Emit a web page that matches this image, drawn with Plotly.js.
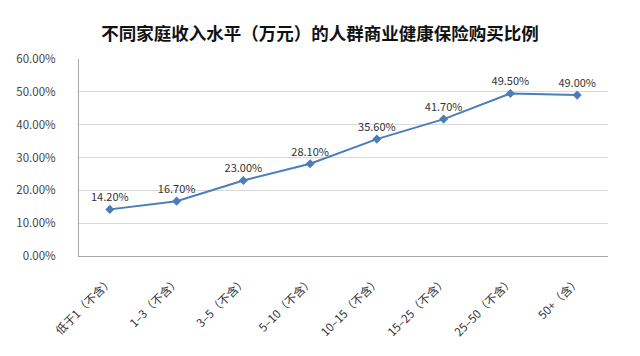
<!DOCTYPE html>
<html>
<head>
<meta charset="utf-8">
<script src="https://cdn.plot.ly/plotly-3.0.1.min.js"></script>
<style>html,body{margin:0;padding:0;background:#fff;}#chart{width:640px;height:356px;}</style>
</head>
<body>
<div id="chart"></div>
<script>
const categories = ["低于1（不含）", "1–3（不含）", "3–5（不含）", "5–10（不含）", "10–15（不含）", "15–25（不含）", "25–50（不含）", "50+（含）"];
const values = [14.2, 16.7, 23.0, 28.1, 35.6, 41.7, 49.5, 49.0];
const yTickValues = [0, 10, 20, 30, 40, 50, 60];
const yTickLabels = ["0.00%", "10.00%", "20.00%", "30.00%", "40.00%", "50.00%", "60.00%"];
const titleText = "不同家庭收入水平（万元）的人群商业健康保险购买比例";

const font = "'Noto Sans CJK SC', 'Microsoft YaHei', sans-serif";

const trace = {
  x: categories,
  y: values,
  type: "scatter",
  mode: "lines+markers+text",
  text: values.map(v => v.toFixed(2) + "%"),
  textposition: "top center",
  textfont: {family: font, size: 11, color: "#333"},
  line: {color: "#4A7EBB", width: 2},
  marker: {symbol: "diamond", size: 7, color: "#4A7EBB"},
  cliponaxis: false,
  hoverinfo: "none"
};

const layout = {
  width: 640,
  height: 356,
  margin: {l: 79, r: 32, t: 59, b: 100},
  paper_bgcolor: "#fff",
  plot_bgcolor: "#fff",
  showlegend: false,
  title: {
    text: titleText,
    font: {family: font, size: 17.5, color: "#111", weight: "bold"},
    x: 0.5, xanchor: "center",
    y: 0.905, yanchor: "middle"
  },
  xaxis: {
    type: "category",
    tickangle: -45,
    tickfont: {family: font, size: 11.5, color: "#333"},
    showgrid: false,
    showline: true,
    linecolor: "#a6a6a6",
    linewidth: 1,
    ticks: "",
    ticklabelstandoff: 13,
    zeroline: false,
    fixedrange: true
  },
  yaxis: {
    range: [0, 60],
    tickvals: yTickValues,
    ticktext: yTickLabels,
    tickfont: {family: font, size: 11.5, color: "#444"},
    showgrid: true,
    gridcolor: "#d9d9d9",
    gridwidth: 1,
    showline: true,
    linecolor: "#a6a6a6",
    linewidth: 1,
    zeroline: false,
    ticks: "",
    ticklabelstandoff: 20,
    fixedrange: true
  }
};

Plotly.newPlot("chart", [trace], layout, {displayModeBar: false, staticPlot: true});
</script>
</body>
</html>
